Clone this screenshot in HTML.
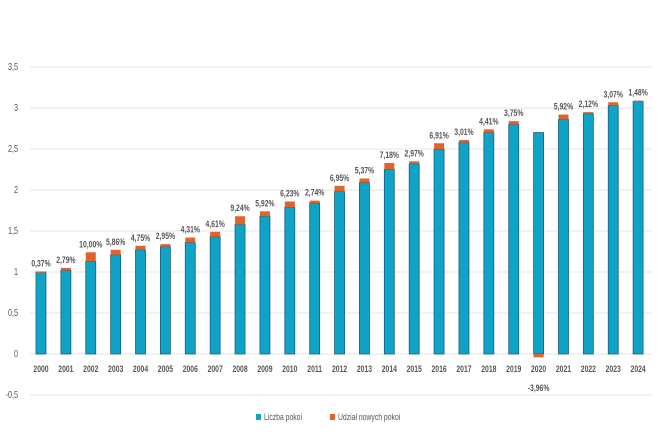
<!DOCTYPE html>
<html><head><meta charset="utf-8"><style>
body{margin:0;background:#fff;width:661px;height:431px;overflow:hidden;}
svg text{font-family:"Liberation Sans",sans-serif;fill:#555;}
</style></head><body>
<svg id="c" width="661" height="431"></svg>
<script>
const years=["2000","2001","2002","2003","2004","2005","2006","2007","2008","2009","2010","2011","2012","2013","2014","2015","2016","2017","2018","2019","2020","2021","2022","2023","2024"];
const rooms=[1.0,1.02,1.13,1.21,1.27,1.31,1.36,1.43,1.58,1.68,1.79,1.84,1.98,2.09,2.25,2.32,2.50,2.58,2.70,2.80,2.70,2.86,2.93,3.03,3.08];
const share=[0.004,0.03,0.11,0.06,0.05,0.03,0.06,0.06,0.10,0.06,0.07,0.03,0.07,0.05,0.08,0.03,0.07,0.03,0.04,0.04,-0.04,0.06,0.02,0.04,0.01];
const pct=["0,37%","2,79%","10,00%","5,86%","4,75%","2,95%","4,31%","4,61%","9,24%","5,92%","6,23%","2,74%","6,95%","5,37%","7,18%","2,97%","6,91%","3,01%","4,41%","3,75%","-3,96%","5,92%","2,12%","3,07%","1,48%"];
const ticks=[-0.5,0,0.5,1,1.5,2,2.5,3,3.5];
const tickLabels=["-0,5","0","0,5","1","1,5","2","2,5","3","3,5"];
const svg=document.getElementById('c');const NS="http://www.w3.org/2000/svg";
const y=v=>354-v*82;const x=i=>41+i*24.88;
function el(t,a,p){const e=document.createElementNS(NS,t);for(const k in a)e.setAttribute(k,a[k]);(p||svg).appendChild(e);return e;}
function txt(px,py,s,size,bold,anchor){
 const g=el('g',{transform:'translate('+px+','+py+') scale(0.72,1)'});
 const t=el('text',{x:0,y:0,'font-size':size,'font-weight':bold?'bold':'normal','text-anchor':anchor},g);
 t.textContent=s;return t;}
ticks.forEach((t,i)=>{
 const g=el('line',{x1:30,x2:652,y1:y(t),y2:y(t),stroke:'#e4e4e4','stroke-width':1});
 
 const tx=txt(18,y(t)+3,tickLabels[i],10,false,'end');
 
});
years.forEach((yr,i)=>{
 const cx=x(i),w=10;
 const b=el('rect',{x:cx-w/2,y:y(rooms[i]),width:w,height:y(0)-y(rooms[i]),fill:'#0fa3c8',stroke:'#1a5f78','stroke-width':0.8});
 
 let o;
 if(share[i]>=0){o=el('rect',{x:cx-w/2,y:y(rooms[i]+share[i]),width:w,height:Math.max(1,y(rooms[i])-y(rooms[i]+share[i])),fill:'#e2632a'});}
 else{o=el('rect',{x:cx-w/2,y:y(0),width:w,height:y(share[i])-y(0),fill:'#e2632a'});}
 
 const ly=share[i]>=0?y(rooms[i]+share[i])-5:y(-0.45);
 const t=txt(cx,ly,pct[i],9.5,true,'middle');
 
 const xl=txt(cx,372,yr,9.5,true,'middle');
 
});
const l1=el('rect',{x:256,y:414,width:5,height:6,fill:'#0fa3c8'});
const t1=txt(264,420,'Liczba pokoi',9.5,false,'start');
const l2=el('rect',{x:330,y:414,width:5,height:6,fill:'#e2632a'});
const t2=txt(338,420,'Udział nowych pokoi',9.5,false,'start');
</script>
</body></html>
